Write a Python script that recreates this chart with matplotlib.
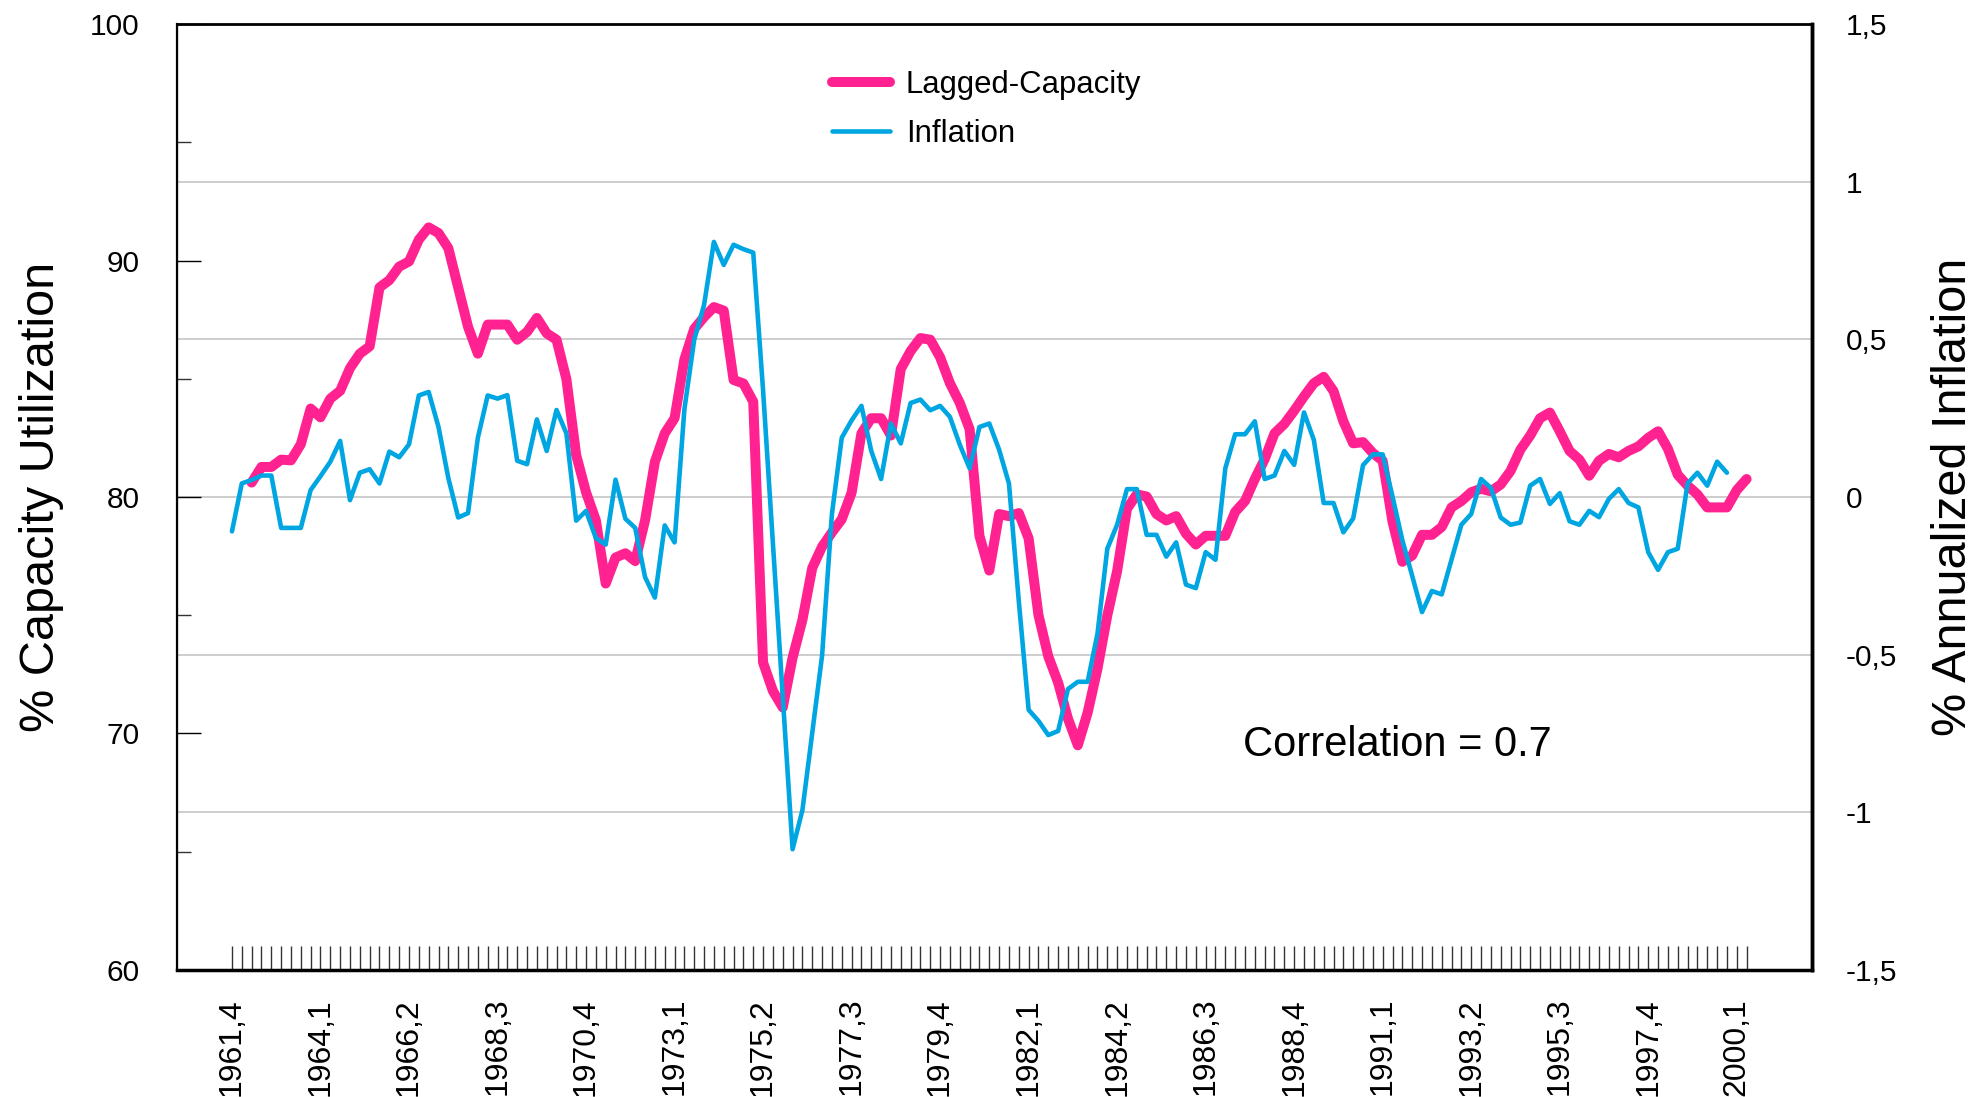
import numpy as np
import matplotlib
matplotlib.use("Agg")
import matplotlib.pyplot as plt
from matplotlib.transforms import blended_transform_factory
from matplotlib.ticker import FixedLocator

plt.rcParams['font.family'] = ['Liberation Sans', 'DejaVu Sans']

# Quarterly inflation, 1961Q4 .. 1999Q4 (right axis)
inflation = [
    -0.109, 0.043, 0.054, 0.068, 0.068, -0.098, -0.098, -0.098, 0.022, 0.066,
    0.112, 0.178, -0.010, 0.077, 0.088, 0.043, 0.144, 0.126, 0.167, 0.322,
    0.333, 0.222, 0.060, -0.065, -0.051, 0.188, 0.322, 0.312, 0.323, 0.115,
    0.104, 0.246, 0.146, 0.276, 0.202, -0.075, -0.044, -0.130, -0.151, 0.055,
    -0.069, -0.098, -0.254, -0.319, -0.090, -0.144, 0.278, 0.499, 0.609, 0.809,
    0.736, 0.800, 0.786, 0.775, 0.338, -0.146, -0.632, -1.117, -0.993, -0.747,
    -0.503, -0.054, 0.188, 0.243, 0.289, 0.146, 0.057, 0.233, 0.170, 0.298,
    0.309, 0.275, 0.289, 0.254, 0.166, 0.091, 0.222, 0.233, 0.150, 0.043,
    -0.330, -0.675, -0.710, -0.755, -0.742, -0.609, -0.586, -0.586, -0.434, -0.164,
    -0.088, 0.025, 0.025, -0.120, -0.120, -0.189, -0.144, -0.278, -0.289, -0.175,
    -0.199, 0.091, 0.199, 0.199, 0.240, 0.057, 0.068, 0.146, 0.102, 0.268,
    0.181, -0.019, -0.019, -0.112, -0.068, 0.101, 0.135, 0.135, 0.001, -0.137,
    -0.250, -0.365, -0.298, -0.309, -0.199, -0.088, -0.054, 0.057, 0.029, -0.065,
    -0.088, -0.081, 0.036, 0.057, -0.022, 0.012, -0.077, -0.088, -0.044, -0.064,
    -0.006, 0.025, -0.019, -0.033, -0.175, -0.231, -0.175, -0.164, 0.043, 0.077,
    0.036, 0.112, 0.077,
]

# Capacity utilization lagged two quarters, 1962Q2 .. 2000Q2 (left axis)
capacity_lag = 2
capacity = [
    80.61, 81.27, 81.27, 81.58, 81.55, 82.23, 83.74, 83.37, 84.16, 84.49,
    85.45, 86.06, 86.37, 88.86, 89.17, 89.74, 89.96, 90.88, 91.40, 91.16,
    90.52, 88.86, 87.20, 86.06, 87.29, 87.29, 87.29, 86.65, 86.98, 87.57,
    86.92, 86.65, 84.99, 81.77, 80.20, 79.01, 76.34, 77.44, 77.62, 77.29,
    79.01, 81.49, 82.69, 83.33, 85.82, 87.11, 87.61, 88.03, 87.88, 84.95,
    84.80, 84.03, 73.00, 71.80, 71.10, 73.20, 74.80, 77.00, 77.90, 78.50,
    79.06, 80.18, 82.69, 83.33, 83.33, 82.60, 85.41, 86.17, 86.72, 86.65,
    85.91, 84.81, 83.98, 82.87, 78.36, 76.89, 79.28, 79.19, 79.32, 78.25,
    75.01, 73.26, 72.15, 70.63, 69.50, 70.88, 72.74, 74.99, 76.87, 79.50,
    80.11, 80.02, 79.28, 79.01, 79.19, 78.45, 77.99, 78.36, 78.36, 78.36,
    79.37, 79.83, 80.76, 81.60, 82.69, 83.09, 83.65, 84.25, 84.81, 85.08,
    84.48, 83.20, 82.27, 82.32, 81.86, 81.53, 78.95, 77.26, 77.53, 78.40,
    78.40, 78.73, 79.56, 79.83, 80.20, 80.35, 80.24, 80.53, 81.10, 82.00,
    82.60, 83.33, 83.57, 82.78, 81.95, 81.58, 80.90, 81.53, 81.82, 81.68,
    81.95, 82.14, 82.50, 82.78, 82.04, 80.94, 80.48, 80.11, 79.56, 79.56,
    79.56, 80.29, 80.76,
]

n_quarters = 155          # 1961Q4 .. 2000Q2
label_step = 9
quarter_labels = ['1961,4', '1964,1', '1966,2', '1968,3', '1970,4', '1973,1',
                  '1975,2', '1977,3', '1979,4', '1982,1', '1984,2', '1986,3',
                  '1988,4', '1991,1', '1993,2', '1995,3', '1997,4', '2000,1']
left_ticks = [60, 70, 80, 90, 100]
left_minor = [65, 75, 85, 95]
right_ticks = [-1.5, -1.0, -0.5, 0.0, 0.5, 1.0, 1.5]
right_labels = ['-1,5', '-1', '-0,5', '0', '0,5', '1', '1,5']

PINK = '#FF2290'
BLUE = '#00A6E2'

W, H = 1978, 1097
fig = plt.figure(figsize=(W / 100, H / 100), dpi=100)
L, R, T, B = 176.6, 1811.5, 24, 970
ax = fig.add_axes([L / W, 1 - B / H, (R - L) / W, (B - T) / H])
ax2 = ax.twinx()
ax.set_zorder(ax2.get_zorder() + 1)
ax.patch.set_visible(False)

x_inf = np.arange(len(inflation))
x_cap = np.arange(len(capacity)) + capacity_lag

# grid (from right axis)
ax2.set_ylim(-1.5, 1.5)
ax2.set_yticks(right_ticks)
ax2.set_yticklabels(right_labels)
ax2.yaxis.grid(True, color='#c0c0c0', lw=1.1)
ax2.tick_params(axis='y', length=0, pad=24.5, labelsize=21.5)

l1, = ax.plot(x_cap, capacity, color=PINK, lw=7.2, solid_capstyle='round',
              solid_joinstyle='round', label='Lagged-Capacity', zorder=3)
tr = blended_transform_factory(ax.transData, ax2.transData)
l2, = ax.plot(x_inf, inflation, color=BLUE, lw=3.3, solid_capstyle='round',
              solid_joinstyle='round', transform=tr, label='Inflation', zorder=4)
ax.set_ylim(60, 100)
ax.set_xlim(-5.63, 160.6)

# left axis ticks
ax.yaxis.set_major_locator(FixedLocator(left_ticks))
ax.yaxis.set_minor_locator(FixedLocator(left_minor))
ax.tick_params(axis='y', which='major', direction='in', length=17.6, width=1,
               color='black', labelsize=21.5, pad=26.6)
ax.tick_params(axis='y', which='minor', direction='in', length=10.3, width=1,
               color='#333333')
ax.tick_params(axis='y', right=False, which='both')

# x axis ticks
ax.set_xticks(np.arange(0, n_quarters, label_step))
ax.set_xticklabels(quarter_labels, rotation=90)
ax.xaxis.set_minor_locator(FixedLocator(np.arange(n_quarters)))
ax.tick_params(axis='x', which='both', direction='in', length=17.3, width=1,
               color='#333333')
ax.tick_params(axis='x', which='major', labelsize=23, pad=20)

for a in (ax, ax2):
    for s in a.spines.values():
        s.set_color('black')
ax.spines['top'].set_linewidth(2.0)
ax.spines['left'].set_linewidth(1.6)
ax.spines['bottom'].set_linewidth(2.5)
ax.spines['right'].set_linewidth(2.5)
ax2.spines['right'].set_linewidth(2.5)

ax.set_ylabel('% Capacity Utilization', fontsize=35)
ax.yaxis.set_label_coords(-0.069, 0.5)
ax2.set_ylabel('% Annualized Inflation', fontsize=35)
ax2.yaxis.set_label_coords(1.073, 0.5)

leg = ax.legend(handles=[l1, l2], loc='upper left',
                bbox_to_anchor=(832 / W, 1 - 70 / H), bbox_transform=fig.transFigure,
                frameon=False, fontsize=22.4, handlelength=1.87, handletextpad=0.5,
                borderpad=0, borderaxespad=0, labelspacing=0.62)

fig.text(1243 / W, 1 - 745 / H, 'Correlation = 0.7', fontsize=30,
         ha='left', va='center')

fig.savefig('out.png', dpi=100)
